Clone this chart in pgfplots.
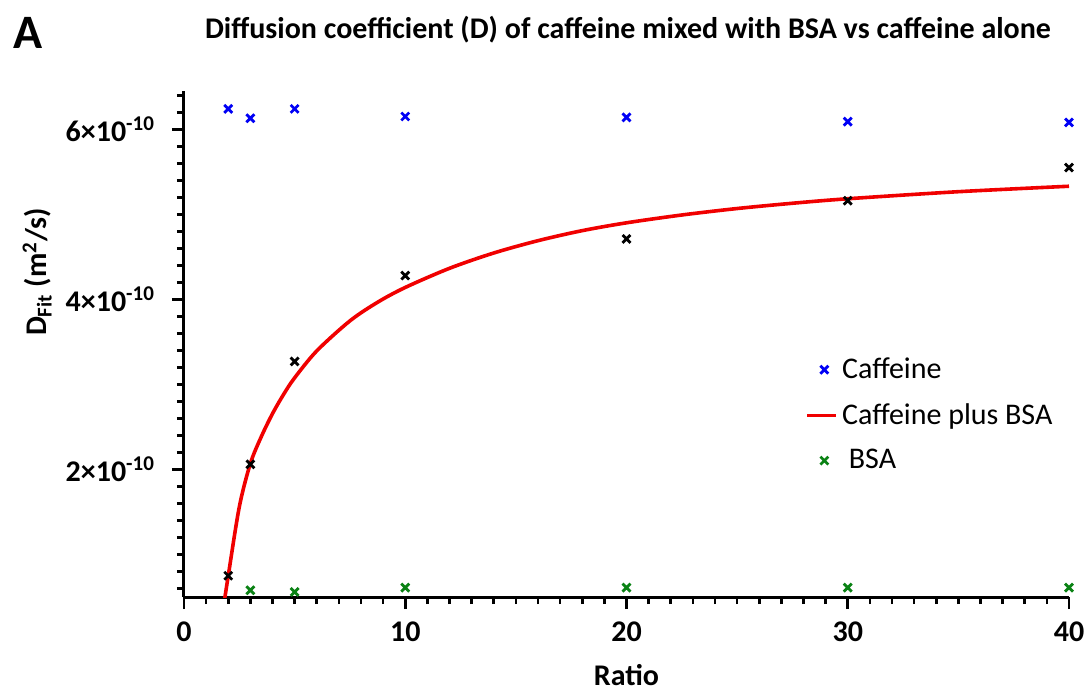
\documentclass[border=0pt]{standalone}
\usepackage{pgfplots}
\pgfplotsset{compat=1.18}
\usepackage{fontspec}
\setmainfont{Carlito}
\definecolor{cblue}{RGB}{0,0,245}
\definecolor{cgreen}{RGB}{10,130,20}
\definecolor{cred}{RGB}{240,0,0}
\begin{document}
\begin{tikzpicture}
\useasboundingbox (0,0) rectangle (543.5pt,346.5pt);
\node[font=\bfseries\fontsize{24}{26}\selectfont] at (14pt,330pt) {A};
\node[font=\bfseries\fontsize{15}{17}\selectfont] at (314pt,331.5pt) {Diffusion coefficient (D) of caffeine mixed with BSA vs caffeine alone};
\begin{axis}[
  at={(92pt,48pt)}, anchor=south west,
  scale only axis, width=442.5pt, height=253pt,
  xmin=0, xmax=40, ymin=0.5e-10, ymax=6.45e-10,
  axis lines*=left,
  axis line style={line width=1.5pt, -},
  tick align=outside,
  tick style={line width=1.3pt, black},
  major tick length=6pt, minor tick length=3.5pt,
  xtick={0,10,20,30,40},
  xticklabels={\textbf{0},\textbf{10},\textbf{20},\textbf{30},\textbf{40}},
  minor xtick={1,2,3,4,5,6,7,8,9,11,12,13,14,15,16,17,18,19,21,22,23,24,25,26,27,28,29,31,32,33,34,35,36,37,38,39},
  ytick={2e-10,4e-10,6e-10},
  yticklabels={\textbf{2×10\textsuperscript{-10}},\textbf{4×10\textsuperscript{-10}},\textbf{6×10\textsuperscript{-10}}},
  minor ytick={0.6e-10,0.8e-10,1.0e-10,1.2e-10,1.4e-10,1.6e-10,1.8e-10,2.2e-10,2.4e-10,2.6e-10,2.8e-10,3.0e-10,3.2e-10,3.4e-10,3.6e-10,3.8e-10,4.2e-10,4.4e-10,4.6e-10,4.8e-10,5.0e-10,5.2e-10,5.4e-10,5.6e-10,5.8e-10,6.2e-10,6.4e-10},
  ticklabel style={font=\fontsize{15}{17}\selectfont},
  xticklabel style={yshift=-3pt},
  yticklabel style={xshift=-5pt},
  scaled y ticks=false,
  xlabel={\textbf{Ratio}},
  xlabel style={font=\fontsize{15}{17}\selectfont, at={(axis description cs:0.5,0)}, anchor=center, yshift=-39pt},
  ylabel={\textbf{D\textsubscript{Fit} (m\textsuperscript{2}/s)}},
  ylabel style={font=\fontsize{15}{17}\selectfont, at={(axis description cs:-0.166,0.642)}, anchor=center},
  legend style={draw=none, fill=none, font=\fontsize{15}{17}\selectfont,
    at={(axis description cs:0.695,0.36)}, anchor=west, row sep=7pt,
    cells={anchor=west}},
  legend cell align=left,
]
\addplot[only marks, mark=x, mark size=2.8pt, cblue, line width=1.4pt] coordinates {
(2,6.24e-10) (3,6.13e-10) (5,6.24e-10) (10,6.15e-10) (20,6.14e-10) (30,6.09e-10) (40,6.08e-10)};
\addlegendentry{Caffeine}
\addplot[cred, line width=1.8pt, smooth,
  legend image code/.code={\draw[cred, line width=1.8pt] (0pt,0pt) -- (14.5pt,0pt);}] coordinates {
(1.7,0.24e-10) (2.0,0.75e-10) (2.5,1.56e-10) (3.0,2.07e-10) (3.5,2.389e-10) (4.0,2.656e-10) (4.5,2.882e-10) (5.0,3.077e-10) (6.0,3.394e-10) (7.5,3.747e-10) (8.75,3.966e-10) (10,4.14e-10) (12,4.365e-10) (14,4.545e-10) (16,4.69e-10) (18,4.808e-10) (20,4.90e-10) (22.5,4.992e-10) (25,5.068e-10) (27.5,5.13e-10) (30,5.183e-10) (35,5.266e-10) (40,5.33e-10)};
\addlegendentry{Caffeine plus BSA}
\addplot[only marks, mark=x, mark size=2.8pt, cgreen, line width=1.4pt] coordinates {
(3,0.58e-10) (5,0.56e-10) (10,0.61e-10) (20,0.61e-10) (30,0.61e-10) (40,0.61e-10)};
\addlegendentry{\ BSA}
\addplot[only marks, mark=x, mark size=2.8pt, black, line width=1.4pt, forget plot] coordinates {
(2,0.75e-10) (3,2.06e-10) (5,3.27e-10) (10,4.28e-10) (20,4.71e-10) (30,5.16e-10) (40,5.55e-10)};
\end{axis}
\end{tikzpicture}
\end{document}
